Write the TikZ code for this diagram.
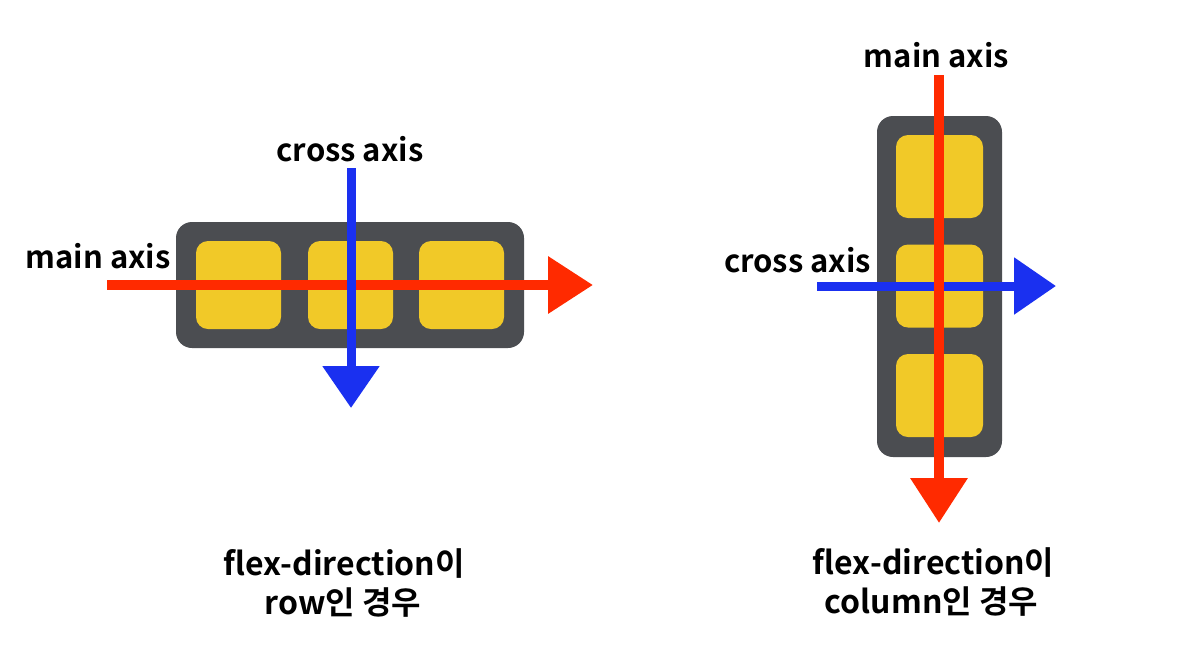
\documentclass[tikz,border=0pt]{standalone}
\usepackage{fontspec}
\setmainfont{Noto Sans CJK KR}[BoldFont={Noto Sans CJK KR Bold}]
\usetikzlibrary{arrows.meta}
\definecolor{boxdark}{HTML}{4B4D51}
\definecolor{itemyellow}{HTML}{F1C928}
\definecolor{axisred}{HTML}{FF2A00}
\definecolor{axisblue}{HTML}{1A30F0}
\tikzset{
  container/.style={fill=boxdark, rounded corners=16pt, inner sep=0pt},
  item/.style={fill=itemyellow, rounded corners=12pt, inner sep=0pt, minimum width=85pt, minimum height=88pt},
  itemv/.style={fill=itemyellow, rounded corners=12pt, inner sep=0pt, minimum width=87pt, minimum height=83pt},
  redaxis/.style={draw=axisred, line width=10pt, -{Triangle[length=45pt,width=55pt]}},
  blueaxis/.style={draw=axisblue, line width=9pt, -{Triangle[length=42pt,width=55pt]}},
  lbl/.style={font=\bfseries\fontsize{31}{36}\selectfont, inner sep=0pt, anchor=base},
  capt/.style={font=\bfseries\fontsize{32}{38}\selectfont, inner sep=0pt, anchor=base}
}
\begin{document}
\begin{tikzpicture}[x=1pt,y=-1pt]
\useasboundingbox[fill=white] (0,0) rectangle (1201,649);
% ---------- left: row ----------
\node[container, minimum width=348pt, minimum height=126pt] (rowbox) at (350,285) {};
\node[item] (r1) at (238.5,285) {};
\node[item] (r2) at (350.5,285) {};
\node[item] (r3) at (461.5,285) {};
\coordinate (rmS) at (107,285);
\coordinate (rmE) at (593,285);
\coordinate (rcS) at (351,168);
\coordinate (rcE) at (351,408);
\draw[redaxis] (rmS) -- (rmE);
\draw[blueaxis] (rcS) -- (rcE);
\node[lbl] (rmain) at (98,268) {main axis};
\node[lbl] (rcross) at (350,161) {cross axis};
\node[capt] (rcap1) at (344,575) {flex-direction이};
\node[capt] (rcap2) at (343,614) {row인 경우};
% ---------- right: column ----------
\node[container, minimum width=125pt, minimum height=341pt] (colbox) at (939.5,286.5) {};
\node[itemv] (c1) at (939.5,176.5) {};
\node[itemv] (c2) at (939.5,286) {};
\node[itemv] (c3) at (939.5,395.5) {};
\coordinate (ccS) at (817,286);
\coordinate (ccE) at (1056,286);
\coordinate (cmS) at (939,75);
\coordinate (cmE) at (939,523);
\draw[blueaxis] (ccS) -- (ccE);
\draw[redaxis] (cmS) -- (cmE);
\node[lbl] (cmain) at (936.5,67) {main axis};
\node[lbl] (ccross) at (797.5,272) {cross axis};
\node[capt] (ccap1) at (933.5,574) {flex-direction이};
\node[capt] (ccap2) at (931.5,613) {column인 경우};
\end{tikzpicture}
\end{document}
